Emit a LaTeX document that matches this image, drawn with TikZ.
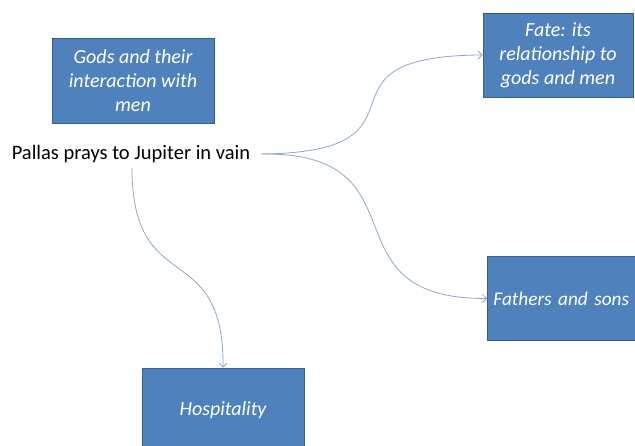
\documentclass[tikz,border=0pt]{standalone}
\usepackage{fontspec}
\setmainfont{Carlito}
\usetikzlibrary{arrows.meta}
\definecolor{boxfill}{HTML}{4F81BD}
\definecolor{boxline}{HTML}{385D8A}
\definecolor{linkcol}{HTML}{8FA8C8}
\begin{document}
\begin{tikzpicture}[x=1pt,y=-1pt,
  topicbox/.style={draw=boxline, line width=0.9pt, fill=boxfill, text=white,
    font=\fontsize{20}{24}\selectfont\itshape, align=center, inner sep=0pt},
  link/.style={draw=linkcol, line width=0.8pt, -{Straight Barb[length=4pt,width=8pt]}}]
\useasboundingbox (0,0) rectangle (635,446);
\clip (0,0) rectangle (635,446);
\fill[white] (0,0) rectangle (635,446);
\node[topicbox, minimum width=162pt, minimum height=85pt] (gods) at (133,80.5)
  {Gods and their\\interaction with\\men};
\node[topicbox, minimum width=150pt, minimum height=84pt] (fate) at (558,55)
  {Fate: its\\relationship to\\gods and men};
\node[topicbox, anchor=west, align=left, text width=151pt, inner xsep=6pt,
  minimum height=84pt, font=\fontsize{19.3}{24}\selectfont\itshape] (fathers) at (487,298.5)
  {Fathers and sons};
\node[topicbox, minimum width=162pt, minimum height=84pt] (hosp) at (223,410)
  {Hospitality};
\node[font=\fontsize{20.5}{24}\selectfont, inner xsep=11pt, inner ysep=5pt] (pallas) at (131,154)
  {Pallas prays to Jupiter in vain};
\coordinate (pe) at (pallas.east);
\coordinate (ps) at ([xshift=1pt]pallas.south);
\draw[link] (pe) .. controls (447,152) and (297,56) .. (fate.west);
\draw[link] (pe) .. controls (430,152) and (320,299) .. (fathers.west);
\draw[link] (ps) .. controls (132,300) and (224,236) .. (hosp.north);
\end{tikzpicture}
\end{document}
